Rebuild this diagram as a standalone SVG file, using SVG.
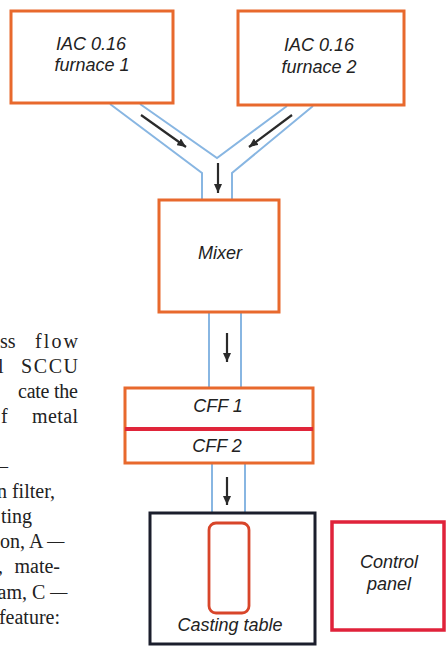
<svg xmlns="http://www.w3.org/2000/svg" width="446" height="646" viewBox="0 0 446 646">
<style>
.box{fill:#fff;stroke:#e8692d;stroke-width:3}
.lbl{font-family:"Liberation Sans",Arial,sans-serif;font-style:italic;font-size:18px;fill:#222;text-anchor:middle}
.pipe{fill:none;stroke:#88b6e2;stroke-width:2}
.arr{fill:none;stroke:#2a2a2a;stroke-width:2.2}
.cap{font-family:"Liberation Serif","Times New Roman",serif;font-size:20px;fill:#222}
</style>
<defs>
<marker id="ah" markerUnits="userSpaceOnUse" markerWidth="10" markerHeight="8" refX="9" refY="4" orient="auto">
<path d="M0,0 L9,4 L0,8 Z" fill="#2a2a2a"/>
</marker>
</defs>
<rect width="446" height="646" fill="#fff"/>
<g id="caption">
<text class="cap" x="0" y="347.5">ss</text>
<text class="cap" x="35" y="347.5" textLength="43" lengthAdjust="spacing">flow</text>
<text class="cap" x="-2" y="372.6">l</text>
<text class="cap" x="21" y="372.6" textLength="57" lengthAdjust="spacing">SCCU</text>
<text class="cap" x="18" y="397.7" textLength="60" lengthAdjust="spacing">cate the</text>
<text class="cap" x="1" y="422.8">f</text>
<text class="cap" x="32" y="422.8" textLength="46" lengthAdjust="spacing">metal</text>
<text class="cap" x="-2" y="473">–</text>
<text class="cap" x="55" y="498" text-anchor="end">n filter,</text>
<text class="cap" x="32" y="523" text-anchor="end">ting</text>
<text class="cap" x="0" y="548">on, A <tspan textLength="17" lengthAdjust="spacingAndGlyphs">–</tspan></text>
<text class="cap" x="-2" y="573">,</text>
<text class="cap" x="60" y="573" text-anchor="end">mate-</text>
<text class="cap" x="-2.5" y="598.5">am, C <tspan textLength="17" lengthAdjust="spacingAndGlyphs">–</tspan></text>
<text class="cap" x="60" y="623.6" text-anchor="end">feature:</text>
</g>
<g id="connectors">
<polyline class="pipe" points="110,104 202,173 202,200"/>
<polyline class="pipe" points="140,104 217,158 287,106"/>
<polyline class="pipe" points="313,106 232,173 232,200"/>
<line class="pipe" x1="209" y1="312" x2="209" y2="388"/>
<line class="pipe" x1="241" y1="312" x2="241" y2="388"/>
<line class="pipe" x1="212" y1="463" x2="212" y2="512"/>
<line class="pipe" x1="245" y1="463" x2="245" y2="512"/>
<line class="arr" x1="141" y1="115" x2="186" y2="147" marker-end="url(#ah)"/>
<line class="arr" x1="292" y1="115" x2="249" y2="147" marker-end="url(#ah)"/>
<line class="arr" x1="218" y1="163" x2="218" y2="193" marker-end="url(#ah)"/>
<line class="arr" x1="227" y1="333" x2="227" y2="362" marker-end="url(#ah)"/>
<line class="arr" x1="227" y1="477" x2="227" y2="505" marker-end="url(#ah)"/>
</g>
<g id="furnace1">
<rect class="box" x="11" y="11" width="162" height="92"/>
<text class="lbl" x="91" y="50">IAC 0.16</text>
<text class="lbl" x="92" y="71">furnace 1</text>
</g>
<g id="furnace2">
<rect class="box" x="238" y="11" width="166" height="94"/>
<text class="lbl" x="319" y="51">IAC 0.16</text>
<text class="lbl" x="319" y="73">furnace 2</text>
</g>
<g id="mixer">
<rect class="box" x="159" y="200" width="120" height="112"/>
<text class="lbl" x="220" y="259">Mixer</text>
</g>
<g id="cff">
<rect class="box" x="125" y="388" width="188" height="75"/>
<line x1="125" y1="429" x2="313" y2="429" stroke="#e0253a" stroke-width="4"/>
<text class="lbl" x="218" y="412">CFF 1</text>
<text class="lbl" x="217" y="452">CFF 2</text>
</g>
<g id="casting-table">
<rect x="150" y="513" width="165" height="131" fill="#fff" stroke="#1b1e2c" stroke-width="3"/>
<rect x="209" y="523" width="40" height="90" rx="7" fill="none" stroke="#d8452a" stroke-width="2.8"/>
<text class="lbl" x="230" y="631">Casting table</text>
</g>
<g id="control-panel">
<rect x="332" y="522" width="112" height="108" fill="#fff" stroke="#e0223a" stroke-width="3.5"/>
<text class="lbl" x="389" y="568">Control</text>
<text class="lbl" x="389" y="590">panel</text>
</g>
</svg>
